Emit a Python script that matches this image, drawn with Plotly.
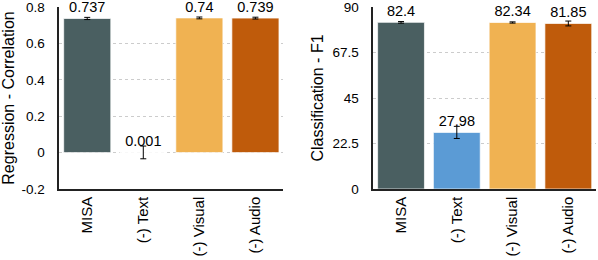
import plotly.graph_objects as go
from plotly.subplots import make_subplots

categories = ["MISA", "(-) Text", "(-) Visual", "(-) Audio"]
corr_values = [0.737, 0.001, 0.740, 0.739]
corr_err = [0.006, 0.035, 0.005, 0.005]
corr_labels = ["0.737", "0.001", "0.74", "0.739"]
f1_values = [82.40, 27.98, 82.34, 81.85]
f1_err = [0.4, 3.0, 0.3, 1.2]
f1_labels = ["82.4", "27.98", "82.34", "81.85"]
colors = ["#4a5f61", "#5b9bd5", "#f0b252", "#bf5b0b"]
corr_ticks = [-0.2, 0, 0.2, 0.4, 0.6, 0.8]
corr_ticklabels = ["-0.2", "0", "0.2", "0.4", "0.6", "0.8"]
f1_ticks = [0, 22.5, 45, 67.5, 90]
f1_ticklabels = ["0", "22.5", "45", "67.5", "90"]

font = "Liberation Sans, Arial, sans-serif"

fig = make_subplots(rows=1, cols=2, horizontal_spacing=0.15)

for col, vals, errs, labels in [(1, corr_values, corr_err, corr_labels), (2, f1_values, f1_err, f1_labels)]:
    fig.add_trace(go.Bar(
        x=categories, y=vals,
        marker=dict(color=colors, line=dict(color="rgba(255,255,255,0.7)", width=1)),
        error_y=dict(type="data", array=errs, color="black", thickness=1, width=3),
        text=labels, textposition="outside", cliponaxis=False, constraintext="none",
        textfont=dict(size=14.5, color="black", family=font), showlegend=False,
    ), row=1, col=col)

fig.update_xaxes(showline=True, linecolor="#222222", linewidth=1.5, ticks="", automargin=False,
                 tickfont=dict(size=15, color="black", family=font), tickangle=-90, showgrid=False,
                 ticklabeloverflow="allow")
fig.update_xaxes(domain=[0.099, 0.474], row=1, col=1)
fig.update_xaxes(domain=[0.624, 0.997], row=1, col=2)

fig.update_yaxes(showline=True, linecolor="#222222", linewidth=1.5, ticks="", automargin=False,
                 tickfont=dict(size=13.5, color="black", family=font),
                 showgrid=True, gridcolor="#cccccc", griddash="dot", gridwidth=1,
                 zeroline=False, ticklabelstandoff=10, ticklabeloverflow="allow")
fig.update_yaxes(range=[-0.2, 0.8], tickvals=corr_ticks, ticktext=corr_ticklabels,
                 title=dict(text="Regression - Correlation", font=dict(size=16, color="black", family=font), standoff=9),
                 row=1, col=1)
fig.update_yaxes(range=[0, 90], tickvals=f1_ticks, ticktext=f1_ticklabels,
                 title=dict(text="Classification - F1", font=dict(size=16, color="black", family=font), standoff=5),
                 row=1, col=2)

fig.update_layout(
    width=598, height=260,
    margin=dict(l=0, r=0, t=7, b=71),
    plot_bgcolor="white", paper_bgcolor="white",
    bargap=0.16,
    font=dict(family=font, color="black"),
)

fig.write_html("out.html", config={"displayModeBar": False},
               post_script="document.body.style.margin='0';")
